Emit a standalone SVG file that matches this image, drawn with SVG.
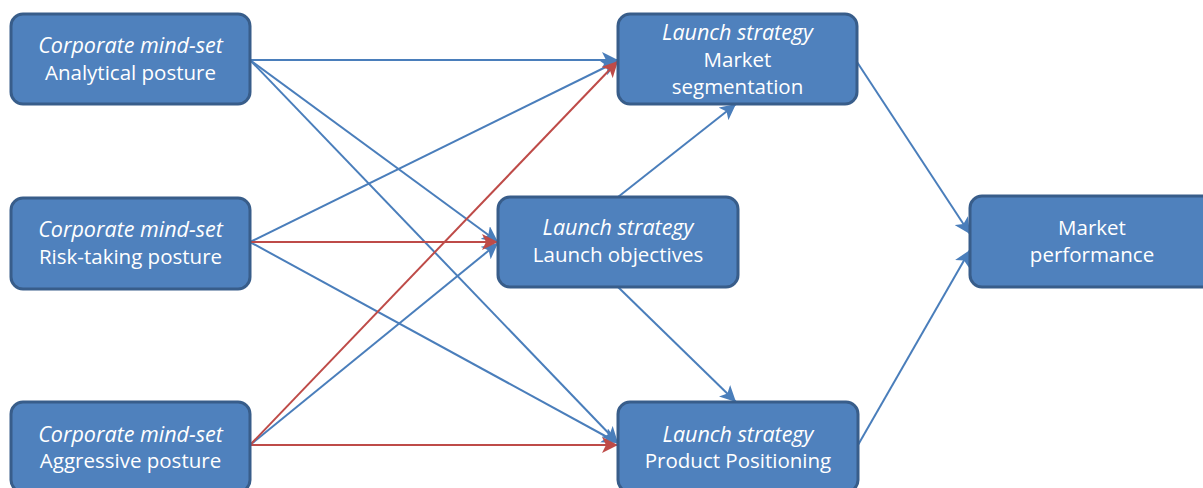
<svg xmlns="http://www.w3.org/2000/svg" width="1203" height="488" viewBox="0 0 1203 488">
  <style>
    .box { fill: #4F81BD; stroke: #385D8A; stroke-width: 3; }
    .lbl { fill: #FFFFFF; font-family: "Open Sans", "Liberation Sans", Arial, sans-serif; font-size: 20.5px; text-anchor: middle; }
    .it { font-style: italic; font-size: 21.5px; }
    .blue { stroke: #4A7EBB; stroke-width: 2; fill: none; marker-end: url(#arrowBlue); }
    .red { stroke: #BE4B48; stroke-width: 2; fill: none; marker-end: url(#arrowRed); }
  </style>
  <defs>
    <marker id="arrowBlue" markerUnits="userSpaceOnUse" markerWidth="17" markerHeight="16" refX="16" refY="8" orient="auto">
      <path d="M0,0 L16,8 L0,16 L4,8 Z" fill="#4A7EBB"/>
    </marker>
    <marker id="arrowRed" markerUnits="userSpaceOnUse" markerWidth="17" markerHeight="16" refX="16" refY="8" orient="auto">
      <path d="M0,0 L16,8 L0,16 L4,8 Z" fill="#BE4B48"/>
    </marker>
  </defs>

  <!-- connectors -->
  <g id="connectors">
    <line class="blue" x1="250" y1="60" x2="618" y2="60"/>
    <line class="blue" x1="250" y1="60" x2="498" y2="242"/>
    <line class="blue" x1="250" y1="60" x2="618" y2="443"/>
    <line class="blue" x1="250" y1="242" x2="618" y2="61"/>
    <line class="blue" x1="250" y1="242" x2="618" y2="443"/>
    <line class="blue" x1="250" y1="445" x2="498" y2="243"/>
    <line class="blue" x1="618" y1="197" x2="736" y2="104"/>
    <line class="blue" x1="618" y1="287" x2="736" y2="402"/>
    <line class="blue" x1="857" y1="62" x2="970" y2="234"/>
    <line class="blue" x1="858" y1="445" x2="970" y2="250"/>
    <line class="red" x1="250" y1="242" x2="498" y2="242"/>
    <line class="red" x1="250" y1="445" x2="618" y2="61"/>
    <line class="red" x1="250" y1="445" x2="618" y2="445"/>
  </g>

  <g id="analytical">
    <rect class="box" x="11" y="14" width="239" height="90" rx="12"/>
    <text class="lbl it" x="130.5" y="53">Corporate mind-set</text>
    <text class="lbl" x="130.5" y="80">Analytical posture</text>
  </g>

  <g id="risk-taking">
    <rect class="box" x="11" y="198" width="239" height="91" rx="12"/>
    <text class="lbl it" x="130.5" y="237">Corporate mind-set</text>
    <text class="lbl" x="130.5" y="264">Risk-taking posture</text>
  </g>

  <g id="aggressive">
    <rect class="box" x="11" y="402" width="239" height="90" rx="12"/>
    <text class="lbl it" x="130.5" y="442">Corporate mind-set</text>
    <text class="lbl" x="130.5" y="468">Aggressive posture</text>
  </g>

  <g id="segmentation">
    <rect class="box" x="618" y="14" width="239" height="90" rx="12"/>
    <text class="lbl it" x="737.5" y="40">Launch strategy</text>
    <text class="lbl" x="737.5" y="67">Market</text>
    <text class="lbl" x="737.5" y="94">segmentation</text>
  </g>

  <g id="objectives">
    <rect class="box" x="498" y="197" width="240" height="90" rx="12"/>
    <text class="lbl it" x="618" y="235">Launch strategy</text>
    <text class="lbl" x="618" y="262">Launch objectives</text>
  </g>

  <g id="positioning">
    <rect class="box" x="618" y="402" width="240" height="90" rx="12"/>
    <text class="lbl it" x="738" y="442">Launch strategy</text>
    <text class="lbl" x="738" y="468">Product Positioning</text>
  </g>

  <g id="performance">
    <rect class="box" x="970" y="196" width="244" height="91" rx="12"/>
    <text class="lbl" x="1092" y="235">Market</text>
    <text class="lbl" x="1092" y="262">performance</text>
  </g>
</svg>
